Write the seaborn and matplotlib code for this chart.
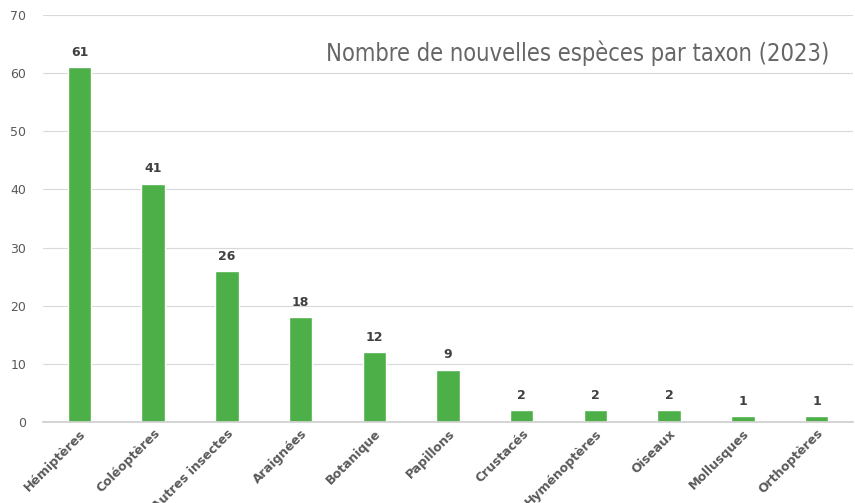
import matplotlib
matplotlib.use("Agg")
import matplotlib.pyplot as plt
import seaborn as sns
import pandas as pd

taxons = ['Hémiptères', 'Coléoptères', 'Autres insectes', 'Araignées', 'Botanique',
          'Papillons', 'Crustacés', 'Hyménoptères', 'Oiseaux', 'Mollusques', 'Orthoptères']
counts = [61, 41, 26, 18, 12, 9, 2, 2, 2, 1, 1]
yticks = [0, 10, 20, 30, 40, 50, 60, 70]

df = pd.DataFrame({'taxon': taxons, 'n': counts})

sns.set_theme(style='white')
plt.rcParams['font.family'] = ['DejaVu Sans']

fig = plt.figure(figsize=(8.55, 5.03), dpi=100)
ax = fig.add_axes([0.05, 0.161, 0.948, 0.809])

sns.barplot(data=df, x='taxon', y='n', color='#4caf47', saturation=1, width=0.32, ax=ax)

ax.set_ylim(0, 70)
ax.set_xlim(-0.5, len(taxons) - 0.5)
ax.set_yticks(yticks)
ax.yaxis.grid(True, color='#d9d9d9', linewidth=0.8)
ax.set_axisbelow(True)
for s in ['top', 'right', 'left']:
    ax.spines[s].set_visible(False)
ax.spines['bottom'].set_color('#d0d0d0')
ax.tick_params(axis='both', length=0, colors='#595959', labelsize=9)
ax.tick_params(axis='y', pad=12)
ax.set_xlabel('')
ax.set_ylabel('')
plt.setp(ax.get_xticklabels(), rotation=45, ha='right', rotation_mode='anchor',
         fontweight='semibold', color='#595959')

for c in ax.containers:
    ax.bar_label(c, padding=6, fontsize=9, fontweight='bold', color='#404040')

fig.text(0.97, 0.895, 'Nombre de nouvelles espèces par taxon (2023)', ha='right', va='center',
         fontsize=17, color='#666666', family=['Liberation Sans Narrow', 'DejaVu Sans'],
         fontstretch='condensed')

fig.savefig('out.png', dpi=100)
